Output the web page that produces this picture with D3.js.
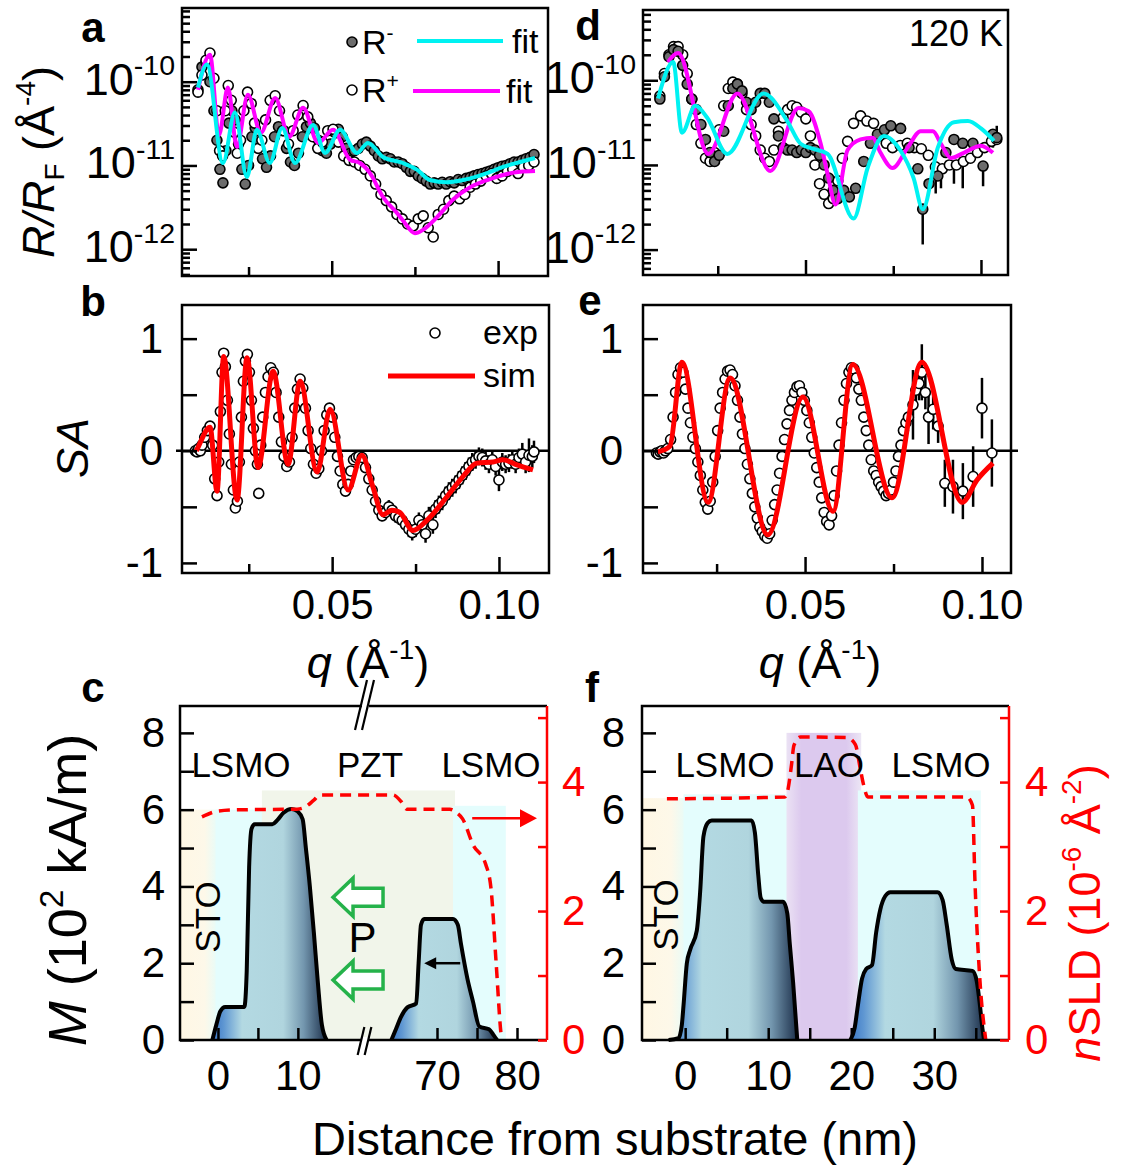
<!DOCTYPE html>
<html lang="en">
<head>
  <meta charset="UTF-8">
  <style>
    body { margin: 0; background: #fff; }
    svg text { font-family: "Liberation Sans", Arial, sans-serif; }
  </style>
  <script src="https://cdn.jsdelivr.net/npm/d3@7"></script>
</head>
<body>
  <svg id="chart" width="1122" height="1168"></svg>
  <script>
    // ---------- data ----------
    // panel a : reflectivity, q in 1/A, R/RF in A^-4
    const aRminus = [[0.0098,8.0e-11],[0.0110,1.5e-10],[0.0122,1.7e-10],[0.0134,1.0e-10],[0.0146,4.5e-11],[0.0155,2.0e-11],[0.0164,9.0e-12],[0.0173,6.2e-12],[0.0182,1.5e-11],[0.0191,3.2e-11],[0.0200,4.5e-11],[0.0210,3.5e-11],[0.0220,1.8e-11],[0.0230,9.0e-12],[0.0240,6.0e-12],[0.0250,1.0e-11],[0.0260,2.2e-11],[0.0270,2.8e-11],[0.0280,2.0e-11],[0.0292,1.2e-11],[0.0304,9.5e-12],[0.0316,1.3e-11],[0.0328,2.2e-11],[0.0340,2.9e-11],[0.0352,2.6e-11],[0.0364,1.6e-11],[0.0376,1.1e-11],[0.0388,1.0e-11],[0.0400,1.4e-11],[0.0412,2.2e-11],[0.0424,2.9e-11],[0.0436,3.2e-11],[0.0448,2.8e-11],[0.0460,2.0e-11],[0.0472,1.5e-11],[0.0484,1.4e-11],[0.0496,1.8e-11],[0.0508,2.5e-11],[0.0520,2.7e-11],[0.0532,2.2e-11],[0.0544,1.6e-11],[0.0556,1.4e-11],[0.0568,1.5e-11],[0.0580,1.6e-11],[0.0592,1.8e-11],[0.0604,1.9e-11],[0.0616,1.7e-11],[0.0628,1.5e-11],[0.0640,1.3e-11],[0.0652,1.2e-11],[0.0664,1.25e-11],[0.0676,1.2e-11],[0.0688,1.1e-11],[0.0700,1.1e-11],[0.0712,1.05e-11],[0.0724,9.5e-12],[0.0736,8.5e-12],[0.0748,8.5e-12],[0.0760,7.5e-12],[0.0772,7.0e-12],[0.0784,6.5e-12],[0.0796,6.0e-12],[0.0808,6.2e-12],[0.0820,6.0e-12],[0.0832,6.3e-12],[0.0844,6.0e-12],[0.0856,6.4e-12],[0.0868,6.2e-12],[0.0880,6.8e-12],[0.0892,6.6e-12],[0.0904,7.0e-12],[0.0916,7.2e-12],[0.0928,7.5e-12],[0.0940,7.8e-12],[0.0952,8.0e-12],[0.0964,8.3e-12],[0.0976,8.6e-12],[0.0988,9.0e-12],[0.1000,9.4e-12],[0.1012,9.8e-12],[0.1024,1.0e-11],[0.1036,1.05e-11],[0.1048,1.1e-11],[0.1060,1.1e-11],[0.1072,1.15e-11],[0.1084,1.2e-11],[0.1096,1.25e-11],[0.1108,1.35e-11]];
    const aRplus = [[0.0098,7.5e-11],[0.0110,1.2e-10],[0.0122,1.8e-10],[0.0134,2.2e-10],[0.0146,1.1e-10],[0.0155,4.5e-11],[0.0163,1.5e-11],[0.0172,1.3e-11],[0.0180,4.5e-11],[0.0189,9.0e-11],[0.0198,6.0e-11],[0.0207,2.5e-11],[0.0216,1.4e-11],[0.0226,2.0e-11],[0.0236,4.5e-11],[0.0247,7.5e-11],[0.0258,5.5e-11],[0.0268,3.2e-11],[0.0279,1.6e-11],[0.0290,2.0e-11],[0.0301,3.5e-11],[0.0315,6.0e-11],[0.0330,6.8e-11],[0.0343,4.5e-11],[0.0356,2.6e-11],[0.0370,1.8e-11],[0.0384,2.6e-11],[0.0398,4.0e-11],[0.0414,5.2e-11],[0.0428,3.8e-11],[0.0443,2.2e-11],[0.0458,1.6e-11],[0.0472,1.9e-11],[0.0488,2.6e-11],[0.0504,2.7e-11],[0.0520,1.9e-11],[0.0536,1.3e-11],[0.0552,1.15e-11],[0.0568,1.1e-11],[0.0584,1.0e-11],[0.0600,9.0e-12],[0.0616,7.5e-12],[0.0632,6.0e-12],[0.0648,4.5e-12],[0.0664,3.8e-12],[0.0680,3.2e-12],[0.0696,2.6e-12],[0.0712,2.3e-12],[0.0728,2.0e-12],[0.0745,1.9e-12],[0.0760,2.3e-12],[0.0775,2.5e-12],[0.0790,1.8e-12],[0.0805,1.4e-12],[0.0820,2.6e-12],[0.0836,3.0e-12],[0.0852,3.8e-12],[0.0868,4.3e-12],[0.0884,4.0e-12],[0.0900,4.5e-12],[0.0916,5.5e-12],[0.0932,6.0e-12],[0.0948,6.5e-12],[0.0964,7.5e-12],[0.0980,8.0e-12],[0.0996,7.0e-12],[0.1012,7.5e-12],[0.1028,8.5e-12],[0.1044,9.0e-12],[0.1060,8.0e-12],[0.1076,9.5e-12],[0.1092,1.0e-11],[0.1108,1.1e-11]];
    const aFitMinus = [[0.0098,8.5e-11],[0.0125,1.6e-10],[0.0173,1.07e-11],[0.0209,4.3e-11],[0.0245,7.3e-12],[0.0275,2.66e-11],[0.0314,1.07e-11],[0.0351,2.8e-11],[0.0390,1.07e-11],[0.0444,3.05e-11],[0.0480,1.41e-11],[0.0525,2.66e-11],[0.0576,1.41e-11],[0.0609,1.86e-11],[0.0654,1.26e-11],[0.0714,1.07e-11],[0.0756,8.9e-12],[0.0795,6.7e-12],[0.0846,6.3e-12],[0.0895,6.7e-12],[0.0967,8.1e-12],[0.1015,9.6e-12],[0.1066,1.1e-11],[0.1111,1.23e-11]];
    const aFitPlus = [[0.0098,8.0e-11],[0.0134,2.1e-10],[0.0161,2.3e-11],[0.0188,8.5e-11],[0.0215,1.66e-11],[0.0248,7.0e-11],[0.0287,2.45e-11],[0.0330,6.4e-11],[0.0372,2.2e-11],[0.0414,4.9e-11],[0.0459,1.86e-11],[0.0504,2.66e-11],[0.0555,1.17e-11],[0.0585,1.07e-11],[0.0615,8.1e-12],[0.0654,4.2e-12],[0.0696,2.7e-12],[0.0714,2.2e-12],[0.0750,1.55e-12],[0.0774,1.7e-12],[0.0816,2.4e-12],[0.0864,3.9e-12],[0.0916,5.5e-12],[0.0967,6.7e-12],[0.1015,7.7e-12],[0.1066,8.4e-12],[0.1111,8.6e-12]];

    // panel d : reflectivity at 120 K
    const dRplus = [[0.0085,6.5e-11],[0.0098,1.2e-10],[0.0111,2.0e-10],[0.0124,2.5e-10],[0.0137,2.5e-10],[0.0150,2.0e-10],[0.0163,1.2e-10],[0.0176,6.0e-11],[0.0189,3.0e-11],[0.0202,1.8e-11],[0.0215,1.2e-11],[0.0228,1.1e-11],[0.0241,1.4e-11],[0.0254,2.6e-11],[0.0267,5.0e-11],[0.0280,8.0e-11],[0.0293,9.5e-11],[0.0306,9.0e-11],[0.0319,7.0e-11],[0.0332,4.5e-11],[0.0345,3.0e-11],[0.0358,2.2e-11],[0.0371,1.5e-11],[0.0384,1.2e-11],[0.0397,1.1e-11],[0.0410,1.5e-11],[0.0423,2.5e-11],[0.0436,3.6e-11],[0.0449,4.5e-11],[0.0462,5.0e-11],[0.0475,4.8e-11],[0.0488,4.2e-11],[0.0501,3.5e-11],[0.0514,2.2e-11],[0.0527,1.0e-11],[0.0540,6.0e-12],[0.0553,4.5e-12],[0.0566,3.5e-12],[0.0579,4.0e-12],[0.0592,6.5e-12],[0.0605,1.2e-11],[0.0620,1.9e-11],[0.0637,3.1e-11],[0.0657,3.8e-11],[0.0675,3.3e-11],[0.0694,3.1e-11],[0.0712,2.2e-11],[0.0730,1.8e-11],[0.0748,1.6e-11],[0.0770,1.7e-11],[0.0790,1.8e-11],[0.0810,1.6e-11],[0.0830,1.55e-11],[0.0850,1.3e-11],[0.0870,9.5e-12],[0.0890,9.0e-12],[0.0910,1.0e-11],[0.0930,1.0e-11],[0.0950,1.1e-11],[0.0970,1.2e-11],[0.0990,1.4e-11],[0.1010,1.6e-11],[0.1030,1.9e-11],[0.1045,2.0e-11]];
    const dRminus = [[0.0085,6.0e-11],[0.0098,1.1e-10],[0.0111,1.9e-10],[0.0124,2.3e-10],[0.0137,2.2e-10],[0.0150,1.5e-10],[0.0163,9.0e-11],[0.0176,6.0e-11],[0.0189,4.5e-11],[0.0202,3.0e-11],[0.0215,2.0e-11],[0.0228,1.4e-11],[0.0241,1.1e-11],[0.0254,1.3e-11],[0.0267,2.5e-11],[0.0280,5.0e-11],[0.0293,8.0e-11],[0.0306,9.0e-11],[0.0319,7.5e-11],[0.0332,5.5e-11],[0.0345,4.5e-11],[0.0358,5.5e-11],[0.0371,7.0e-11],[0.0384,7.0e-11],[0.0397,5.5e-11],[0.0410,3.5e-11],[0.0423,2.2e-11],[0.0436,1.6e-11],[0.0449,1.5e-11],[0.0462,1.5e-11],[0.0475,1.4e-11],[0.0488,1.5e-11],[0.0501,1.4e-11],[0.0514,1.6e-11],[0.0527,1.5e-11],[0.0540,1.3e-11],[0.0553,1.0e-11],[0.0566,7.0e-12],[0.0579,5.0e-12],[0.0592,4.0e-12],[0.0609,5.0e-12],[0.0625,4.2e-12],[0.0643,5.3e-12],[0.0666,1.1e-11],[0.0685,1.8e-11],[0.0705,2.3e-11],[0.0725,2.6e-11],[0.0743,2.9e-11],[0.0771,2.7e-11],[0.0795,1.6e-11],[0.0820,9.0e-12],[0.0834,3.0e-12],[0.0852,6.0e-12],[0.0877,7.4e-12],[0.0900,1.4e-11],[0.0923,2.0e-11],[0.0948,1.8e-11],[0.0977,1.8e-11],[0.1006,9.7e-12],[0.1034,2.3e-11],[0.1045,2.1e-11]];
    const dErr = [[0.0834,1.15e-12,3.5e-12],[0.0871,4.6e-12,7.8e-12],[0.0886,5.3e-12,8.5e-12],[0.0923,6.0e-12,1.1e-11],[0.0948,5.3e-12,1.03e-11],[0.1006,5.6e-12,9.7e-12],[0.1034,1.6e-11,2.5e-11],[0.1045,1.78e-11,2.9e-11]];
    const dFitMinus = [[0.0080,6.1e-11],[0.0123,1.64e-10],[0.0148,2.4e-11],[0.0186,5.0e-11],[0.0220,3.6e-11],[0.0277,1.35e-11],[0.0380,7.0e-11],[0.0448,3.3e-11],[0.0486,1.78e-11],[0.0523,1.55e-11],[0.0563,1.35e-11],[0.0637,2.33e-12],[0.0677,9.2e-12],[0.0723,2.2e-11],[0.0771,1.47e-11],[0.0808,7.0e-12],[0.0834,3.0e-12],[0.0877,1.6e-11],[0.0923,3.2e-11],[0.0963,3.3e-11],[0.1000,2.7e-11],[0.1037,1.93e-11]];
    const dFitPlus = [[0.0108,1.64e-10],[0.0137,2.1e-10],[0.0223,1.35e-11],[0.0306,7.0e-11],[0.0400,8.5e-12],[0.0480,4.7e-11],[0.0509,4.3e-11],[0.0543,1.8e-11],[0.0563,7.8e-12],[0.0586,3.4e-12],[0.0620,1.5e-11],[0.0657,2.0e-11],[0.0691,2.1e-11],[0.0714,1.39e-11],[0.0748,9.2e-12],[0.0791,1.6e-11],[0.0828,2.5e-11],[0.0863,2.5e-11],[0.0886,1.78e-11],[0.0914,1.21e-11],[0.0951,1.39e-11],[0.1000,1.69e-11],[0.1034,1.39e-11]];

    // panel b : spin asymmetry [q, SA, error]
    const bExp = [[0.0090,0.00],[0.0095,-0.01],[0.0100,0.02],[0.0105,0.00],[0.0110,0.05],[0.0118,0.12],[0.0126,0.18],[0.0134,0.22],[0.0142,0.05],[0.0148,-0.25],[0.0155,-0.40],[0.0160,-0.10],[0.0165,0.35],[0.0170,0.70],[0.0175,0.87],[0.0180,0.75],[0.0186,0.45],[0.0192,0.15],[0.0198,-0.12],[0.0204,-0.35],[0.0210,-0.51],[0.0216,-0.45],[0.0222,-0.10],[0.0228,0.30],[0.0234,0.62],[0.0240,0.80],[0.0246,0.86],[0.0252,0.70],[0.0258,0.45],[0.0264,0.20],[0.0270,0.00],[0.0276,-0.12],[0.0280,-0.38],[0.0286,0.05],[0.0292,0.30],[0.0300,0.52],[0.0308,0.66],[0.0316,0.74],[0.0324,0.70],[0.0332,0.52],[0.0340,0.30],[0.0348,0.08],[0.0356,-0.05],[0.0364,-0.14],[0.0372,-0.10],[0.0380,0.12],[0.0388,0.38],[0.0396,0.55],[0.0404,0.64],[0.0412,0.56],[0.0420,0.38],[0.0428,0.18],[0.0436,0.02],[0.0444,-0.12],[0.0452,-0.20],[0.0460,-0.16],[0.0468,0.00],[0.0476,0.18],[0.0484,0.32],[0.0492,0.38],[0.0500,0.30],[0.0508,0.12],[0.0516,-0.05],[0.0524,-0.18],[0.0532,-0.30],[0.0540,-0.36],[0.0548,-0.30],[0.0556,-0.18],[0.0564,-0.08],[0.0572,-0.06],[0.0580,-0.05],[0.0590,-0.06],[0.0600,-0.15],[0.0610,-0.25],[0.0620,-0.35,0.05],[0.0630,-0.45,0.05],[0.0640,-0.53,0.05],[0.0650,-0.58,0.05],[0.0660,-0.55,0.06],[0.0670,-0.50,0.06],[0.0680,-0.53,0.06],[0.0690,-0.58,0.06],[0.0700,-0.60,0.06],[0.0710,-0.62,0.06],[0.0720,-0.66,0.07],[0.0730,-0.70,0.07],[0.0740,-0.73,0.07],[0.0750,-0.70,0.07],[0.0760,-0.62,0.07],[0.0770,-0.66,0.07],[0.0780,-0.74,0.08],[0.0790,-0.58,0.08],[0.0802,-0.66,0.08],[0.0810,-0.52,0.08],[0.0820,-0.48,0.08],[0.0830,-0.45,0.08],[0.0840,-0.40,0.08],[0.0850,-0.36,0.08],[0.0860,-0.33,0.08],[0.0870,-0.30,0.08],[0.0880,-0.26,0.08],[0.0890,-0.22,0.08],[0.0900,-0.18,0.08],[0.0910,-0.14,0.08],[0.0920,-0.10,0.08],[0.0930,-0.08,0.08],[0.0940,-0.05,0.08],[0.0950,-0.06,0.08],[0.0960,-0.09,0.08],[0.0970,-0.12,0.08],[0.0980,-0.08,0.08],[0.0990,-0.14,0.08],[0.1000,-0.26,0.10],[0.1010,-0.10,0.08],[0.1020,-0.12,0.08],[0.1030,-0.11,0.08],[0.1040,-0.08,0.08],[0.1050,-0.12,0.08],[0.1060,-0.06,0.08],[0.1070,-0.03,0.10],[0.1080,-0.10,0.10],[0.1090,-0.04,0.15],[0.1100,-0.05,0.10],[0.1105,-0.01,0.10]];
    const bSim = [[0.0093,0.0],[0.0098,0.03],[0.0134,0.21],[0.0155,-0.36],[0.0175,0.84],[0.0215,-0.44],[0.0245,0.83],[0.0278,-0.15],[0.0323,0.71],[0.0368,-0.12],[0.0404,0.62],[0.0455,-0.19],[0.0494,0.37],[0.0548,-0.35],[0.0589,-0.04],[0.0622,-0.32],[0.0652,-0.57],[0.0679,-0.53],[0.0703,-0.55],[0.0742,-0.71],[0.0784,-0.62],[0.0844,-0.41],[0.0892,-0.23],[0.0934,-0.11],[0.0982,-0.10],[0.1012,-0.08],[0.1054,-0.125],[0.1102,-0.17]];

    // panel e : spin asymmetry at 120 K [q, SA, error]
    const eExp = [[0.0080,-0.02],[0.0085,-0.03],[0.0090,-0.01],[0.0095,0.00],[0.0100,-0.02],[0.0105,0.00],[0.0112,0.02],[0.0120,0.10],[0.0127,0.30],[0.0134,0.52],[0.0141,0.68],[0.0148,0.74],[0.0155,0.70],[0.0162,0.55],[0.0169,0.38],[0.0176,0.25],[0.0183,0.12],[0.0190,0.02],[0.0197,-0.10],[0.0204,-0.22],[0.0211,-0.35],[0.0218,-0.46],[0.0225,-0.52],[0.0232,-0.45],[0.0239,-0.28],[0.0246,-0.05],[0.0253,0.18],[0.0260,0.38],[0.0267,0.52],[0.0274,0.64],[0.0281,0.71],[0.0288,0.72],[0.0295,0.68],[0.0302,0.58],[0.0309,0.45],[0.0316,0.30],[0.0323,0.15],[0.0330,0.02],[0.0337,-0.12],[0.0344,-0.25],[0.0351,-0.38],[0.0358,-0.50],[0.0365,-0.60],[0.0372,-0.68],[0.0379,-0.72],[0.0386,-0.76],[0.0393,-0.78],[0.0400,-0.74],[0.0407,-0.62],[0.0414,-0.48],[0.0421,-0.35],[0.0428,-0.20],[0.0435,-0.05],[0.0442,0.10],[0.0449,0.24],[0.0456,0.36],[0.0463,0.45],[0.0470,0.52],[0.0477,0.57],[0.0484,0.58],[0.0491,0.52],[0.0498,0.45],[0.0505,0.36],[0.0512,0.25],[0.0519,0.12],[0.0526,-0.02],[0.0533,-0.15],[0.0540,-0.28],[0.0547,-0.42],[0.0554,-0.55],[0.0561,-0.63],[0.0568,-0.66,0.05],[0.0575,-0.58],[0.0582,-0.40],[0.0589,-0.18],[0.0596,0.05],[0.0603,0.25],[0.0610,0.45],[0.0617,0.60],[0.0624,0.70],[0.0631,0.74],[0.0638,0.73],[0.0645,0.65],[0.0652,0.55],[0.0659,0.45],[0.0666,0.30],[0.0673,0.18],[0.0680,0.05],[0.0687,-0.08],[0.0694,-0.18],[0.0701,-0.22],[0.0708,-0.28],[0.0715,-0.32],[0.0722,-0.36],[0.0729,-0.40],[0.0736,-0.38],[0.0743,-0.35],[0.0750,-0.28],[0.0757,-0.18],[0.0764,-0.05],[0.0771,0.05],[0.0778,0.18],[0.0785,0.25],[0.0792,0.30],[0.0805,0.41,0.31],[0.0813,0.54,0.15],[0.0822,0.60,0.15],[0.0830,0.70,0.25],[0.0840,0.52,0.15],[0.0849,0.30,0.24],[0.0862,0.37,0.18],[0.0876,0.22,0.15],[0.0895,-0.29,0.21],[0.0918,-0.32,0.24],[0.0946,-0.36,0.25],[0.0975,-0.23,0.27],[0.1000,0.38,0.27],[0.1028,-0.02,0.30]];
    const eSim = [[0.0084,-0.01],[0.0118,0.04],[0.0152,0.79],[0.0226,-0.46],[0.0288,0.65],[0.0395,-0.75],[0.0494,0.48],[0.0579,-0.54],[0.0635,0.77],[0.0746,-0.42],[0.0830,0.79],[0.0944,-0.46],[0.0986,-0.26],[0.1031,-0.11]];

    // panels c, f : depth profiles, z in nm, M in 10^2 kA/m, nSLD in 10^-6 A^-2
    const cLayers = [[-4.75, 0.0, 6.0], [-0.3, 7.0, 6.0], [5.5, 72.25, 6.5], [72.0, 78.6, 6.1]];
    const cLayerNames = ["STO", "LSMO", "PZT", "LSMO"];
    const cM1 = [[-0.7,0],[-0.2,0.4],[0.3,0.75],[0.9,0.86],[3.3,0.86],[3.6,1.8],[3.9,4.5],[4.2,5.5],[4.6,5.62],[6.8,5.62],[7.4,5.72],[8.2,5.92],[9.2,6.02],[10.0,5.95],[10.6,5.75],[11.0,5.0],[11.5,4.0],[12.0,2.8],[12.5,1.5],[13.0,0.4],[13.6,0]];
    const cM2 = [[64.3,0],[64.9,0.3],[65.5,0.6],[66.3,0.85],[67.4,0.95],[67.7,2.0],[68.0,3.0],[68.4,3.15],[72.0,3.15],[72.6,3.0],[73.0,2.5],[73.8,1.6],[74.5,1.0],[75.3,0.35],[76.5,0.28],[77.1,0.12],[77.5,0]];
    const cSLD = [[-2.0,3.46],[0,3.55],[2.4,3.57],[9.9,3.58],[11.0,3.62],[12.0,3.72],[12.75,3.8],[17.4,3.8],[64.5,3.8],[65.5,3.7],[66.2,3.58],[71.6,3.58],[72.5,3.52],[73.2,3.43],[74.5,3.03],[76.1,2.72],[76.75,2.35],[77.4,1.18],[78.0,0.1],[78.1,0]];

    const fLayers = [[-5.2, 0.2, 6.3], [-0.2, 12.6, 6.4], [12.2, 21.2, 8.0], [20.8, 35.6, 6.5]];
    const fLayerNames = ["STO", "LSMO", "LAO", "LSMO"];
    const fM1 = [[-2.0,0],[-0.8,0.05],[-0.4,0.4],[-0.2,0.9],[0.2,2.0],[0.6,2.35],[1.4,2.85],[1.8,3.85],[2.2,5.3],[2.7,5.65],[3.2,5.72],[8.0,5.72],[8.4,5.4],[8.8,4.3],[9.1,3.7],[9.5,3.6],[11.8,3.6],[12.3,3.3],[12.6,2.5],[13.0,1.5],[13.5,0]];
    const fM2 = [[19.9,0],[20.4,0.3],[20.8,0.9],[21.3,1.6],[21.8,1.85],[22.5,1.95],[23.0,2.8],[23.5,3.4],[24.1,3.75],[24.7,3.85],[30.4,3.85],[31.0,3.65],[31.5,3.0],[32.1,2.1],[32.6,1.85],[34.6,1.8],[35.1,1.55],[35.5,0.9],[35.8,0.3],[36.0,0]];
    const fSLD = [[-2.2,3.74],[12.0,3.77],[12.4,3.9],[12.8,4.26],[13.1,4.57],[13.9,4.7],[19.5,4.69],[20.5,4.58],[21.1,4.2],[21.5,3.95],[22.0,3.77],[33.9,3.77],[34.6,3.64],[34.9,2.46],[35.5,0.92],[36.1,0.1],[36.2,0]];

    // tick values and labels
    const qMajor = [0.05, 0.10], qMinor = [0.025, 0.075], qLabels = ["0.05", "0.10"];
    const saTicks = [-1, -0.5, 0, 0.5, 1], saLabelTicks = [-1, 0, 1];
    const logMajor = [1e-12, 1e-11, 1e-10], logLabels = ["-12", "-11", "-10"];
    const mTicks = [0, 1, 2, 3, 4, 5, 6, 7, 8], mLabelTicks = [0, 2, 4, 6, 8];
    const sldTicks = [0, 1, 2, 3, 4, 5], sldLabelTicks = [0, 2, 4];
    const cZTicks = [0, 5, 10, 70, 75, 80], cZLabelTicks = [0, 10, 70, 80];
    const fZTicks = [0, 5, 10, 15, 20, 25, 30, 35], fZLabelTicks = [0, 10, 20, 30];

    // ---------- scales ----------
    const xA = d3.scaleLinear().domain([0.005, 0.115]).range([182, 548]);
    const yA = d3.scaleLog().domain([Math.pow(10, -12.32), Math.pow(10, -9.12)]).range([276, 8]);
    const xD = d3.scaleLinear().domain([0.0037, 0.1077]).range([643, 1008]);
    const yD = d3.scaleLog().domain([Math.pow(10, -12.30), Math.pow(10, -9.17)]).range([275, 10]);
    const xB = d3.scaleLinear().domain([0.005, 0.115]).range([182, 549]);
    const yB = d3.scaleLinear().domain([-1.09, 1.30]).range([573, 305]);
    const xE = d3.scaleLinear().domain([0.0042, 0.1082]).range([643, 1011]);
    const yE = d3.scaleLinear().domain([-1.09, 1.30]).range([573, 305]);
    const xC = d3.scaleLinear().domain([-4.75, 18.4, 61, 83.75]).range([180, 365, 365, 547]);
    const xF = d3.scaleLinear().domain([-5.2, 39]).range([642, 1009]);
    const yM = d3.scaleLinear().domain([0, 8.7]).range([1040, 706]);
    const ySLD = d3.scaleLinear().domain([0, 5.18]).range([1040, 706]);

    const svg = d3.select("#chart");
    const defs = svg.append("defs");
    const RED = "#ff0000", CYAN = "#00f2f2", MAGENTA = "#ff00ff";

    function gradient(id, stops) {
      const g = defs.append("linearGradient").attr("id", id)
        .attr("x1", 0).attr("x2", 1).attr("y1", 0).attr("y2", 0);
      stops.forEach(([o, c, op]) => g.append("stop").attr("offset", o)
        .attr("stop-color", c).attr("stop-opacity", op === undefined ? 1 : op));
    }
    gradient("gSTO", [[0, "#fff7e4"], [0.65, "#fdf8e9"], [1, "#e6fcf9"]]);
    gradient("gLAO", [[0, "#ebe2f4"], [0.2, "#dcc9ee"], [0.8, "#dcc9ee"], [1, "#ece6f5"]]);
    gradient("gPeak", [[0, "#3a77c6"], [0.1, "#5f97d2"], [0.26, "#b3d9e2"], [0.62, "#b0d5de"], [0.8, "#7396ae"], [1, "#1c2f4a"]]);
    const layerFill = { STO: "url(#gSTO)", LSMO: "#e4fdfd", PZT: "#f1f5ea", LAO: "url(#gLAO)" };

    // ---------- helpers ----------
    function rich(text, parts, size) {
      let shift = 0;
      parts.forEach(([t, kind]) => {
        const ts = text.append("tspan").text(t);
        let target = 0;
        if (kind === "sup") target = -0.42 * size;
        if (kind === "sub") target = 0.22 * size;
        ts.attr("dy", target - shift);
        shift = target;
        if (kind === "sup" || kind === "sub") ts.attr("font-size", size * 0.62);
        if (kind === "i") ts.attr("font-style", "italic");
      });
      return text;
    }

    function frame(x, y) {
      const [x0, x1] = x.range(), [y1, y0] = y.range();
      svg.append("rect").attr("x", x0).attr("y", y0).attr("width", x1 - x0).attr("height", y1 - y0)
        .attr("fill", "none").attr("stroke", "#000").attr("stroke-width", 2.5);
    }

    function styleAxis(g, color) {
      g.select(".domain").remove();
      g.selectAll("line").attr("stroke", color || "#000").attr("stroke-width", 2.5);
      g.selectAll("text").attr("font-size", 42).attr("fill", color || "#000")
        .attr("font-family", "'Liberation Sans', Arial, sans-serif");
    }

    function bottomAxis(x, y0, values, size, labelled, labels, pad) {
      const g = svg.append("g").attr("transform", `translate(0,${y0})`)
        .call(d3.axisBottom(x).tickValues(values).tickSize(-size).tickPadding(pad || 16)
          .tickFormat(d => { const i = labelled ? labelled.indexOf(d) : -1; return i >= 0 ? labels[i] : ""; }));
      styleAxis(g);
    }

    function sideAxis(gen, scale, x0, values, size, labelled, pad, color) {
      const g = svg.append("g").attr("transform", `translate(${x0},0)`)
        .call(gen(scale).tickValues(values).tickSize(-size).tickPadding(pad)
          .tickFormat(d => labelled && labelled.includes(d) ? String(d) : ""));
      styleAxis(g, color);
    }

    function logAxis(y, x0) {
      const minors = y.ticks().filter(v => !logMajor.some(m => Math.abs(m - v) / m < 1e-6));
      svg.append("g").attr("transform", `translate(${x0},0)`)
        .call(d3.axisLeft(y).tickValues(minors).tickSize(-8).tickFormat(() => ""))
        .call(g => styleAxis(g));
      svg.append("g").attr("transform", `translate(${x0},0)`)
        .call(d3.axisLeft(y).tickValues(logMajor).tickSize(-15).tickFormat(() => ""))
        .call(g => styleAxis(g));
      logMajor.forEach((v, i) => {
        const t = svg.append("text").attr("x", x0 - 7).attr("y", y(v) + 13)
          .attr("text-anchor", "end").attr("font-size", 45);
        rich(t, [["10", ""], [logLabels[i], "sup"]], 46);
      });
    }

    function curve(x, y, data, color, width, dash) {
      const p = svg.append("path").datum(data)
        .attr("d", d3.line().x(d => x(d[0])).y(d => y(d[1])).curve(d3.curveMonotoneX))
        .attr("fill", "none").attr("stroke", color).attr("stroke-width", width)
        .attr("stroke-linejoin", "round");
      if (dash) p.attr("stroke-dasharray", dash);
    }

    function dots(x, y, data, fill) {
      svg.append("g").selectAll("circle").data(data).join("circle")
        .attr("cx", d => x(d[0])).attr("cy", d => y(d[1])).attr("r", 5)
        .attr("fill", fill).attr("stroke", "#000").attr("stroke-width", 1.6);
    }

    function errBars(x, y, data) {
      svg.append("g").selectAll("line").data(data.filter(d => d[2] !== undefined)).join("line")
        .attr("x1", d => x(d[0])).attr("x2", d => x(d[0]))
        .attr("y1", d => y(d[1] - d[2])).attr("y2", d => y(d[1] + d[2]))
        .attr("stroke", "#000").attr("stroke-width", 2.5);
    }

    function label(x, y, parts, size, opts) {
      const t = svg.append("text").attr("font-size", size).attr("text-anchor", (opts && opts.anchor) || "middle")
        .attr("fill", (opts && opts.color) || "#000");
      if (opts && opts.rotate) t.attr("transform", `translate(${x},${y}) rotate(-90)`);
      else t.attr("x", x).attr("y", y);
      if (opts && opts.bold) t.attr("font-weight", "bold");
      return rich(t, parts, size);
    }

    // ---------- panel a ----------
    dots(xA, yA, aRminus, "#6c6c6c");
    dots(xA, yA, aRplus, "#fff");
    curve(xA, yA, aFitPlus, MAGENTA, 4);
    curve(xA, yA, aFitMinus, CYAN, 4);
    frame(xA, yA);
    logAxis(yA, 182);
    bottomAxis(xA, 276, qMinor, 9);
    bottomAxis(xA, 276, qMajor, 15);
    // legend a
    svg.append("circle").attr("cx", 352).attr("cy", 42).attr("r", 5).attr("fill", "#6c6c6c").attr("stroke", "#000").attr("stroke-width", 1.6);
    svg.append("circle").attr("cx", 352).attr("cy", 90).attr("r", 5).attr("fill", "#fff").attr("stroke", "#000").attr("stroke-width", 1.6);
    label(362, 54, [["R", ""], ["-", "sup"]], 34, { anchor: "start" });
    label(362, 102, [["R", ""], ["+", "sup"]], 34, { anchor: "start" });
    svg.append("line").attr("x1", 417).attr("x2", 503).attr("y1", 41).attr("y2", 41).attr("stroke", CYAN).attr("stroke-width", 4);
    svg.append("line").attr("x1", 413).attr("x2", 500).attr("y1", 91).attr("y2", 91).attr("stroke", MAGENTA).attr("stroke-width", 4);
    label(512, 53, [["fit", ""]], 34, { anchor: "start" });
    label(506, 103, [["fit", ""]], 34, { anchor: "start" });

    // ---------- panel d ----------
    svg.append("g").selectAll("line").data(dErr).join("line")
      .attr("x1", d => xD(d[0])).attr("x2", d => xD(d[0]))
      .attr("y1", d => yD(d[1])).attr("y2", d => yD(d[2]))
      .attr("stroke", "#000").attr("stroke-width", 2.5);
    dots(xD, yD, dRplus, "#fff");
    dots(xD, yD, dRminus, "#6c6c6c");
    curve(xD, yD, dFitPlus, MAGENTA, 4);
    curve(xD, yD, dFitMinus, CYAN, 4);
    frame(xD, yD);
    logAxis(yD, 643);
    bottomAxis(xD, 275, qMinor, 9);
    bottomAxis(xD, 275, qMajor, 15);
    label(1003, 46, [["120 K", ""]], 36, { anchor: "end" });

    // ---------- panel b ----------
    svg.append("line").attr("x1", 176).attr("x2", 549).attr("y1", yB(0)).attr("y2", yB(0))
      .attr("stroke", "#000").attr("stroke-width", 2.5);
    errBars(xB, yB, bExp);
    dots(xB, yB, bExp, "#fff");
    curve(xB, yB, bSim, RED, 5);
    frame(xB, yB);
    sideAxis(d3.axisLeft, yB, 182, saTicks, 15, saLabelTicks, 19);
    bottomAxis(xB, 573, qMinor, 9);
    bottomAxis(xB, 573, qMajor, 16, qMajor, qLabels, 16);
    svg.append("circle").attr("cx", 435).attr("cy", 333).attr("r", 5).attr("fill", "#fff").attr("stroke", "#000").attr("stroke-width", 1.6);
    label(483, 344, [["exp", ""]], 34, { anchor: "start" });
    svg.append("line").attr("x1", 388).attr("x2", 475).attr("y1", 376).attr("y2", 376).attr("stroke", RED).attr("stroke-width", 5);
    label(483, 387, [["sim", ""]], 34, { anchor: "start" });

    // ---------- panel e ----------
    svg.append("line").attr("x1", 643).attr("x2", 1018).attr("y1", yE(0)).attr("y2", yE(0))
      .attr("stroke", "#000").attr("stroke-width", 2.5);
    errBars(xE, yE, eExp);
    dots(xE, yE, eExp, "#fff");
    curve(xE, yE, eSim, RED, 5);
    frame(xE, yE);
    sideAxis(d3.axisLeft, yE, 643, saTicks, 15, saLabelTicks, 20);
    bottomAxis(xE, 573, qMinor, 9);
    bottomAxis(xE, 573, qMajor, 16, qMajor, qLabels, 16);

    // ---------- panels c and f ----------
    function profile(x, layers, names, peaks, sld) {
      layers.forEach((l, i) => {
        svg.append("rect").attr("x", x(l[0])).attr("y", yM(l[2]))
          .attr("width", x(l[1]) - x(l[0])).attr("height", yM(0) - yM(l[2]))
          .attr("fill", layerFill[names[i]]);
      });
      peaks.forEach(p => {
        svg.append("path").datum(p)
          .attr("d", d3.area().x(d => x(d[0])).y0(yM(0)).y1(d => yM(d[1])).curve(d3.curveMonotoneX))
          .attr("fill", "url(#gPeak)");
        curve(x, yM, p, "#000", 4);
      });
      curve(x, ySLD, sld, RED, 3.5, "11,7");
    }

    function profileFrame(x) {
      const r = x.range(), x0 = r[0], x1 = r[r.length - 1];
      svg.append("path").attr("d", `M${x1},706H${x0}V1040H${x1}`)
        .attr("fill", "none").attr("stroke", "#000").attr("stroke-width", 2.5);
      svg.append("line").attr("x1", x1).attr("x2", x1).attr("y1", 706).attr("y2", 1040)
        .attr("stroke", RED).attr("stroke-width", 2.5);
    }

    profile(xC, cLayers, cLayerNames, [cM1, cM2], cSLD);
    profileFrame(xC);
    sideAxis(d3.axisLeft, yM, 180, mTicks, 14, mLabelTicks, 15);
    sideAxis(d3.axisRight, ySLD, 547, sldTicks, 9, sldLabelTicks, 15, RED);
    bottomAxis(xC, 1040, cZTicks, 12, cZLabelTicks, cZLabelTicks.map(String), 20);

    // axis break marks
    const brk = xC(18.4);
    [[706, 680, 730], [1040, 1027, 1055]].forEach(([yy, top, bot]) => {
      svg.append("rect").attr("x", brk - 3).attr("y", yy - 3).attr("width", 7).attr("height", 6).attr("fill", "#fff");
      [-4, 3].forEach(off => {
        svg.append("line").attr("x1", brk + off - 6 * (bot - top) / 50).attr("y1", bot)
          .attr("x2", brk + off + 6 * (bot - top) / 50).attr("y2", top)
          .attr("stroke", "#000").attr("stroke-width", 2.2);
      });
    });

    // annotations c
    [3.72, 1.56].forEach(m => {
      const tx = xC(14.4), ty = yM(m);
      svg.append("path")
        .attr("d", `M${tx},${ty}l20,-19v10h30v18h-30v10z`)
        .attr("fill", "#fff").attr("stroke", "#25b24a").attr("stroke-width", 3.5).attr("stroke-linejoin", "miter");
    });
    label(xC(18.1), yM(2.3), [["P", ""]], 42);
    svg.append("line").attr("x1", xC(72.9)).attr("x2", xC(69.3)).attr("y1", yM(2.0)).attr("y2", yM(2.0))
      .attr("stroke", "#000").attr("stroke-width", 2.5);
    svg.append("path").attr("d", `M${xC(68.4)},${yM(2.0)}l12,-6v12z`).attr("fill", "#000");
    svg.append("line").attr("x1", xC(74.4)).attr("x2", xC(80.6)).attr("y1", ySLD(3.44)).attr("y2", ySLD(3.44))
      .attr("stroke", RED).attr("stroke-width", 2.5);
    svg.append("path").attr("d", `M${xC(82.5)},${ySLD(3.44)}l-17,-9v18z`).attr("fill", RED);
    label(241, 777, [["LSMO", ""]], 35);
    label(370, 777, [["PZT", ""]], 35);
    label(491, 777, [["LSMO", ""]], 35);
    label(220, 917, [["STO", ""]], 35, { rotate: true });

    profile(xF, fLayers, fLayerNames, [fM1, fM2], fSLD);
    profileFrame(xF);
    sideAxis(d3.axisLeft, yM, 642, mTicks, 14, mLabelTicks, 17);
    sideAxis(d3.axisRight, ySLD, 1009, sldTicks, 9, sldLabelTicks, 16, RED);
    bottomAxis(xF, 1040, fZTicks, 12, fZLabelTicks, fZLabelTicks.map(String), 20);
    label(725, 777, [["LSMO", ""]], 35);
    label(829, 777, [["LAO", ""]], 35);
    label(941, 777, [["LSMO", ""]], 35);
    label(678, 915, [["STO", ""]], 35, { rotate: true });

    // ---------- axis titles and panel letters ----------
    label(54, 162, [["R/R", "i"], ["F", "sub"], [" (Å", ""], ["-4", "sup"], [")", ""]], 45, { rotate: true });
    label(88, 448, [["SA", "i"]], 45, { rotate: true });
    label(86, 890, [["M", "i"], [" (10", ""], ["2", "sup"], [" kA/m)", ""]], 54, { rotate: true });
    label(1100, 913, [["n", "i"], ["SLD (10", ""], ["-6", "sup"], [" Å", ""], ["-2", "sup"], [")", ""]], 45, { rotate: true, color: RED });
    label(368, 678, [["q", "i"], [" (Å", ""], ["-1", "sup"], [")", ""]], 45);
    label(820, 678, [["q", "i"], [" (Å", ""], ["-1", "sup"], [")", ""]], 45);
    label(615, 1155, [["Distance from substrate (nm)", ""]], 47);

    [["a", 93, 42], ["b", 93, 316], ["c", 93, 702], ["d", 588, 40], ["e", 590, 315], ["f", 592, 702]]
      .forEach(([t, x, y]) => label(x, y, [[t, ""]], 42, { bold: true }));
  </script>
</body>
</html>
